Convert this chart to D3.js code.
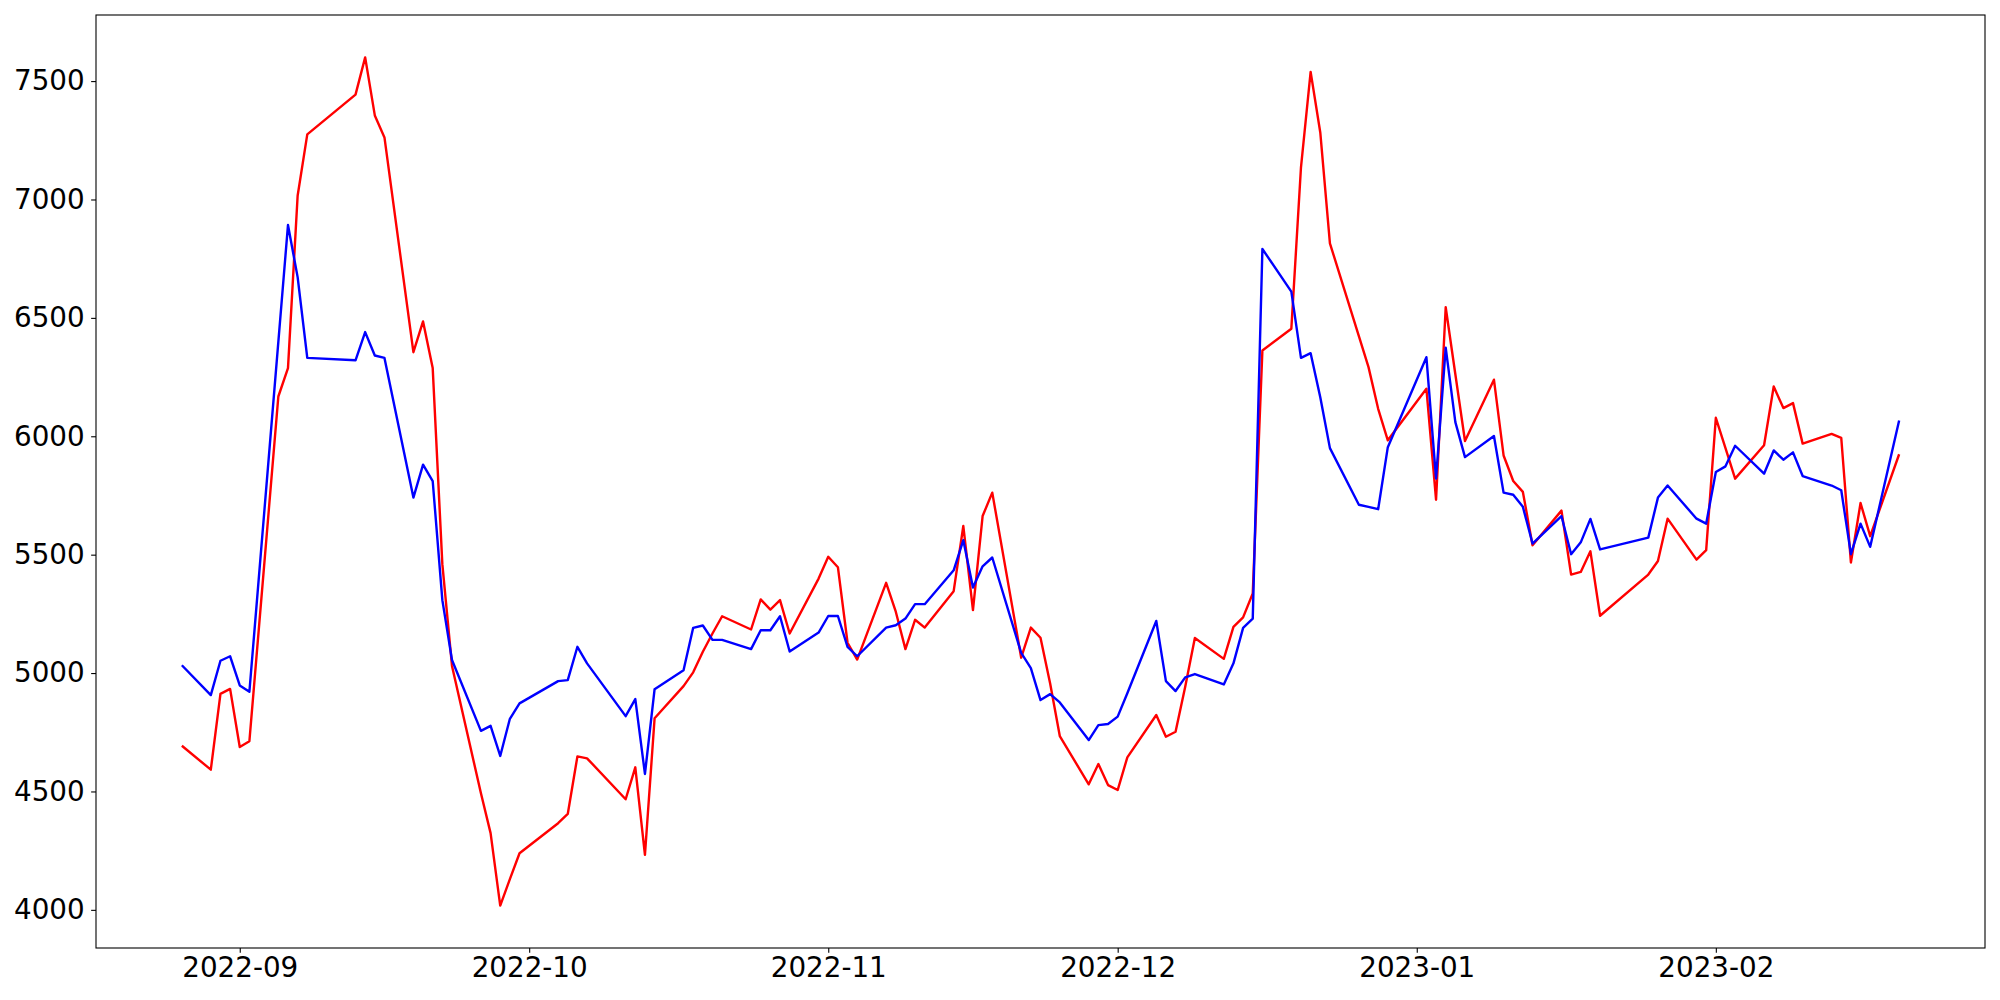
<!DOCTYPE html>
<html>
<head>
<meta charset="utf-8">
<script src="https://cdn.jsdelivr.net/npm/d3@7"></script>
<style>
  html, body { margin: 0; padding: 0; background: #ffffff; }
  svg { display: block; }
  text { font-family: "DejaVu Sans", sans-serif; }
</style>
</head>
<body>
<svg id="chart" width="2000" height="1000"></svg>
<script>
// ---- data ----
const dates = [
  "2022-08-26","2022-08-29","2022-08-30","2022-08-31","2022-09-01","2022-09-02",
  "2022-09-05","2022-09-06","2022-09-07","2022-09-08",
  "2022-09-13","2022-09-14","2022-09-15","2022-09-16",
  "2022-09-19","2022-09-20","2022-09-21","2022-09-22","2022-09-23",
  "2022-09-26","2022-09-27","2022-09-28","2022-09-29","2022-09-30",
  "2022-10-04","2022-10-05","2022-10-06","2022-10-07",
  "2022-10-11","2022-10-12","2022-10-13","2022-10-14",
  "2022-10-17","2022-10-18","2022-10-19","2022-10-20","2022-10-21",
  "2022-10-24","2022-10-25","2022-10-26","2022-10-27","2022-10-28",
  "2022-10-31","2022-11-01","2022-11-02","2022-11-03","2022-11-04",
  "2022-11-07","2022-11-08","2022-11-09","2022-11-10","2022-11-11",
  "2022-11-14","2022-11-15","2022-11-16","2022-11-17","2022-11-18",
  "2022-11-21","2022-11-22","2022-11-23","2022-11-24","2022-11-25",
  "2022-11-28","2022-11-29","2022-11-30","2022-12-01","2022-12-02",
  "2022-12-05","2022-12-06","2022-12-07","2022-12-08","2022-12-09",
  "2022-12-12","2022-12-13","2022-12-14","2022-12-15","2022-12-16",
  "2022-12-19","2022-12-20","2022-12-21","2022-12-22","2022-12-23",
  "2022-12-26","2022-12-27","2022-12-28","2022-12-29",
  "2023-01-02","2023-01-03","2023-01-04","2023-01-05","2023-01-06",
  "2023-01-09","2023-01-10","2023-01-11","2023-01-12","2023-01-13",
  "2023-01-16","2023-01-17","2023-01-18","2023-01-19","2023-01-20",
  "2023-01-25","2023-01-26","2023-01-27",
  "2023-01-30","2023-01-31","2023-02-01","2023-02-02","2023-02-03",
  "2023-02-06","2023-02-07","2023-02-08","2023-02-09","2023-02-10",
  "2023-02-13","2023-02-14","2023-02-15","2023-02-16","2023-02-17",
  "2023-02-20"
];

const redValues = [
  4693,4592,4912,4933,4688,4712,
  6168,6288,7016,7275,
  7443,7600,7355,7262,
  6355,6485,6288,5460,5030,
  4492,4324,4018,4130,4239,
  4366,4405,4648,4640,
  4467,4602,4232,4809,
  4945,5003,5090,5167,5240,
  5184,5311,5268,5308,5167,
  5399,5491,5447,5128,5057,
  5381,5259,5101,5225,5192,
  5346,5621,5266,5663,5762,
  5065,5192,5149,4956,4734,
  4530,4616,4527,4506,4644,
  4823,4731,4752,4942,5148,
  5060,5195,5235,5336,6362,
  6454,7136,7539,7283,6815,
  6423,6292,6116,5983,
  6201,5732,6545,6262,5980,
  6239,5919,5811,5765,5540,
  5686,5416,5427,5514,5242,
  5416,5473,5652,
  5479,5519,6078,5950,5821,
  5962,6210,6119,6140,5969,
  6010,5993,5467,5718,5578,
  5924
];

const blueValues = [
  5033,4907,5052,5071,4948,4921,
  6399,6892,6672,6331,
  6321,6440,6341,6331,
  5741,5880,5811,5308,5055,
  4756,4777,4650,4807,4872,
  4966,4970,5111,5041,
  4818,4890,4574,4932,
  5012,5191,5201,5140,5140,
  5101,5181,5181,5240,5091,
  5171,5241,5241,5111,5071,
  5192,5202,5230,5291,5291,
  5434,5561,5361,5451,5488,
  5085,5021,4886,4911,4876,
  4717,4780,4785,4816,4915,
  5220,4966,4924,4982,4996,
  4952,5041,5191,5230,6791,
  6611,6331,6351,6165,5950,
  5711,5702,5692,5954,
  6334,5821,6374,6060,5912,
  6001,5762,5753,5702,5547,
  5663,5502,5552,5651,5522,
  5572,5741,5792,
  5652,5631,5849,5873,5960,
  5842,5940,5901,5932,5832,
  5792,5772,5502,5631,5533,
  6067
];

const yTickValues = [4000, 4500, 5000, 5500, 6000, 6500, 7000, 7500];
const xTickLabels = ["2022-09", "2022-10", "2022-11", "2022-12", "2023-01", "2023-02"];

// ---- layout ----
const W = 2000, H = 1000;
const plot = { left: 96, right: 1985, top: 15, bottom: 948 };
const fontPx = 27.78;

const parse = d3.utcParse("%Y-%m-%d");
const parseMonth = d3.utcParse("%Y-%m");
const xDates = dates.map(parse);

// matplotlib-like 5% margins
const xExt = d3.extent(xDates);
const xPad = (xExt[1] - xExt[0]) * 0.05;
const allVals = redValues.concat(blueValues);
const yExt = d3.extent(allVals);
const yPad = (yExt[1] - yExt[0]) * 0.05;

const x = d3.scaleUtc()
  .domain([new Date(+xExt[0] - xPad), new Date(+xExt[1] + xPad)])
  .range([plot.left, plot.right]);
const y = d3.scaleLinear()
  .domain([yExt[0] - yPad, yExt[1] + yPad])
  .range([plot.bottom, plot.top]);

const svg = d3.select("#chart");

const redSeries = xDates.map((d, i) => ({ d, v: redValues[i] }));
const blueSeries = xDates.map((d, i) => ({ d, v: blueValues[i] }));

const line = d3.line().x(p => x(p.d)).y(p => y(p.v));

svg.append("defs").append("clipPath").attr("id", "clip")
  .append("rect")
  .attr("x", plot.left).attr("y", plot.top)
  .attr("width", plot.right - plot.left).attr("height", plot.bottom - plot.top);

const lines = svg.append("g").attr("clip-path", "url(#clip)");
lines.append("path").datum(redSeries)
  .attr("d", line).attr("fill", "none")
  .attr("stroke", "#ff0000").attr("stroke-width", 2.4)
  .attr("stroke-linejoin", "round").attr("stroke-linecap", "butt");
lines.append("path").datum(blueSeries)
  .attr("d", line).attr("fill", "none")
  .attr("stroke", "#0000ff").attr("stroke-width", 2.4)
  .attr("stroke-linejoin", "round").attr("stroke-linecap", "butt");

// ---- axes ----
const fmtMonth = d3.utcFormat("%Y-%m");
const xAxis = d3.axisBottom(x)
  .tickValues(xTickLabels.map(parseMonth))
  .tickFormat(fmtMonth)
  .tickSize(4.86)
  .tickPadding(4.86);
const gx = svg.append("g")
  .attr("transform", `translate(0,${plot.bottom})`)
  .call(xAxis);
gx.select(".domain").remove();
gx.selectAll(".tick line").attr("stroke", "#000").attr("stroke-width", 1.1);
gx.selectAll(".tick text")
  .attr("fill", "#000")
  .attr("font-size", fontPx)
  .attr("font-family", "DejaVu Sans")
  .attr("dy", "0.71em");

const yAxis = d3.axisLeft(y)
  .tickValues(yTickValues)
  .tickFormat(d3.format("d"))
  .tickSize(4.86)
  .tickPadding(6.5);
const gy = svg.append("g")
  .attr("transform", `translate(${plot.left},0)`)
  .call(yAxis);
gy.select(".domain").remove();
gy.selectAll(".tick line").attr("stroke", "#000").attr("stroke-width", 1.1);
gy.selectAll(".tick text")
  .attr("fill", "#000")
  .attr("font-size", fontPx)
  .attr("font-family", "DejaVu Sans");

// ---- frame (spines) ----
svg.append("rect")
  .attr("x", plot.left).attr("y", plot.top)
  .attr("width", plot.right - plot.left).attr("height", plot.bottom - plot.top)
  .attr("fill", "none").attr("stroke", "#000").attr("stroke-width", 1.1);
</script>
</body>
</html>
